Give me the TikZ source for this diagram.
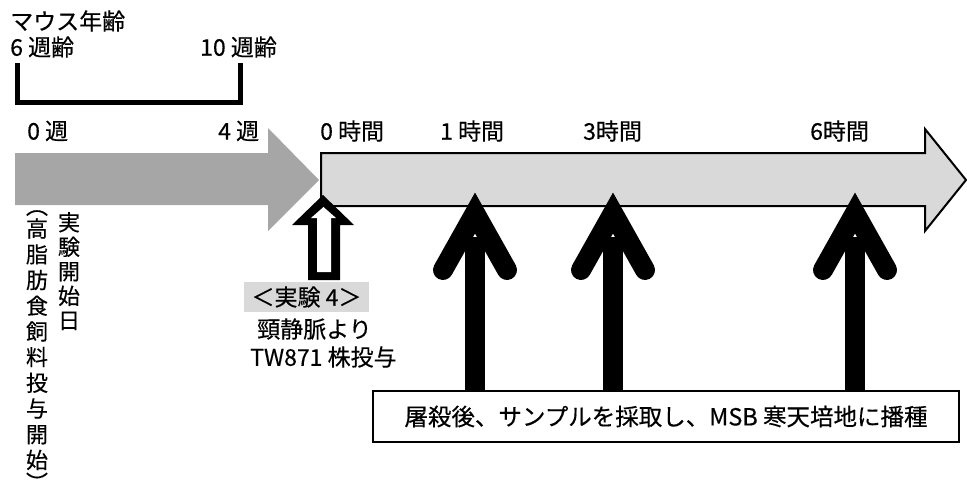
\documentclass[tikz,border=0pt]{standalone}
\usepackage{fontspec}
\setmainfont{Noto Sans CJK JP}[FakeBold=0.35]
\definecolor{arrowgray}{HTML}{A6A6A6}
\definecolor{lightfill}{HTML}{D9D9D9}
\begin{document}
\begin{tikzpicture}[x=1pt,y=-1pt,
  lbl/.style={anchor=west, inner sep=0pt, font=\fontsize{23}{26}\selectfont},
  vcol/.style={anchor=north, inner sep=0pt, align=center, font=\fontsize{22}{24.5}\selectfont},
  vcolwide/.style={vcol, font=\fontsize{22}{25.7}\selectfont},
  blackarrow/.style={line width=20pt},
  blackhead/.style={line width=20pt, line cap=round, line join=miter}]
\useasboundingbox (0,0) rectangle (967,487);

% top labels
\node[lbl] (age) at (10,21) {マウス年齢};
\node[lbl] (w6) at (10,47) {6 週齢};
\node[lbl] (w10) at (200,47) {10 週齢};
\draw[line width=5pt, line join=miter] (17.5,63) -- (17.5,102) -- (240,102) -- (240,63);

\node[lbl] (wk0) at (27,131) {0 週};
\node[lbl] (wk4) at (218,131) {4 週};
\node[lbl] (h0) at (320,131) {0 時間};
\node[lbl] (h1) at (440,131) {1 時間};
\node[lbl] (h3) at (583,131) {3時間};
\node[lbl] (h6) at (810,131) {6時間};

% light timeline arrow
\filldraw[fill=lightfill, draw=black, line width=2pt, line join=miter]
  (321,153) -- (925,153) -- (925,129) -- (966,180) -- (925,231) -- (925,206) -- (321,206) -- cycle;
% gray arrow
\fill[arrowgray] (15,153) -- (268,153) -- (268,128) -- (319,180) -- (268,231) -- (268,205) -- (15,205) -- cycle;

% vertical text
\node[vcol] (start) at (69,212) {実\\験\\開\\始\\日};
\node[vcolwide] (hfd) at (37,210) {︵\\[-3pt]高\\脂\\肪\\食\\飼\\料\\投\\与\\開\\始\\[-3pt]︶};

% open injection arrow
\fill[black] (323,195) -- (292,225) -- (308,225) -- (308,280) -- (340,280) -- (340,225) -- (354,225) -- cycle;
\fill[white] (323.5,207) -- (311,218) -- (317,218) -- (317,272) -- (331,272) -- (331,218) -- (336,218) -- cycle;

% experiment label
\node[fill=lightfill, minimum width=125pt, minimum height=30pt, inner sep=0pt,
  font=\fontsize{23}{26}\selectfont] (exp4) at (306.5,297) {＜実験 4＞};
\node[lbl] (inj1) at (257,329) {頸静脈より};
\node[lbl] (inj2) at (250,357) {TW871 株投与};

% sampling box
\node[draw, line width=1.5pt, minimum width=586pt, minimum height=51pt, inner sep=0pt,
  font=\fontsize{23.5}{26}\selectfont] (box) at (666,416.5) {屠殺後、サンプルを採取し、MSB 寒天培地に播種};

% sampling arrows
\foreach \x/\n in {475/a,613/b,855/c} {
  \coordinate (tip\n) at (\x,213);
  \draw[blackarrow] (tip\n |- box.north) -- ([yshift=-24pt]tip\n);
  \draw[blackhead] ([xshift=-32pt,yshift=-57pt]tip\n) -- (tip\n) -- ([xshift=32pt,yshift=-57pt]tip\n);
}
\end{tikzpicture}
\end{document}
